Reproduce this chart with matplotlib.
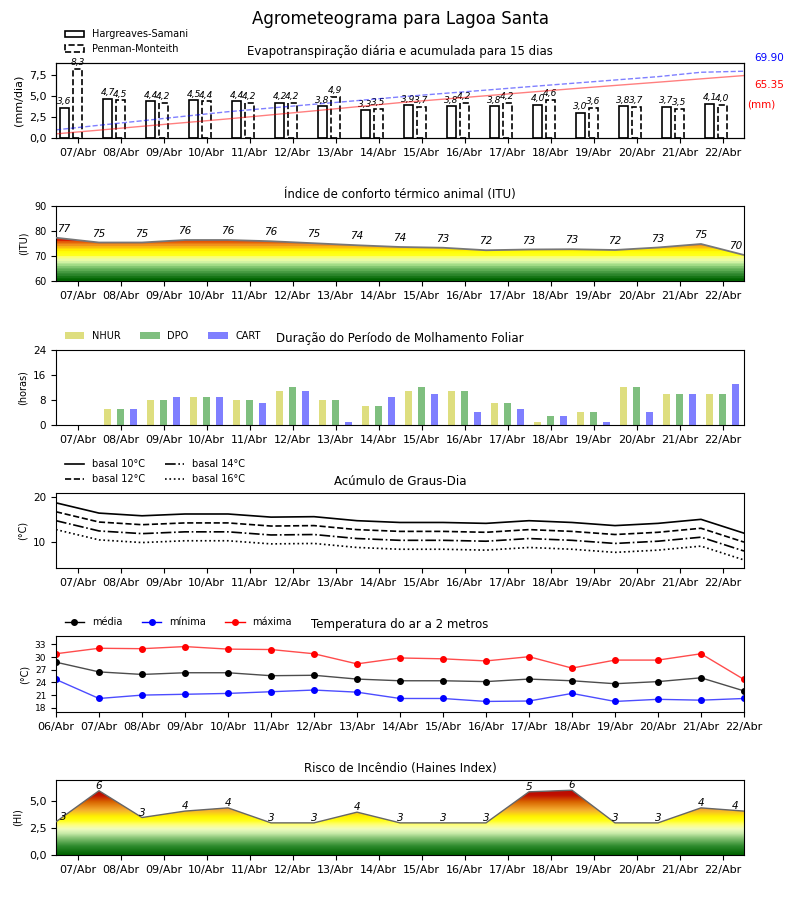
import numpy as np
import matplotlib
matplotlib.use('Agg')
import matplotlib.pyplot as plt
from matplotlib.colors import LinearSegmentedColormap
from matplotlib.ticker import FuncFormatter

dias = ['06/Abr', '07/Abr', '08/Abr', '09/Abr', '10/Abr', '11/Abr', '12/Abr', '13/Abr', '14/Abr',
        '15/Abr', '16/Abr', '17/Abr', '18/Abr', '19/Abr', '20/Abr', '21/Abr', '22/Abr']

# evapotranspiracao diaria (mm/dia), 07/Abr a 22/Abr
et_hs = [3.6, 4.7, 4.4, 4.5, 4.4, 4.2, 3.8, 3.3, 3.9, 3.8, 3.8, 4.0, 3.0, 3.8, 3.7, 4.1]
et_pm = [8.3, 4.5, 4.2, 4.4, 4.2, 4.2, 4.9, 3.5, 3.7, 4.2, 4.2, 4.6, 3.6, 3.7, 3.5, 4.0]
# acumulado (mm)
acum_hs = [4.3, 8.2, 12.2, 16.1, 20.0, 24.2, 28.4, 32.7, 37.0, 40.6, 44.2, 47.9, 51.5, 55.0, 58.4, 61.9, 65.35]
acum_pm = [8.5, 13.3, 18.0, 22.8, 27.5, 31.4, 35.3, 39.1, 43.0, 46.6, 50.1, 53.7, 57.2, 60.7, 64.2, 68.8, 69.90]

itu = [77.3, 75.4, 75.4, 76.4, 76.4, 75.9, 75.1, 74.3, 73.6, 73.3, 72.3, 72.6, 72.7, 72.4, 73.4, 74.8, 70.4]

nhur = [0, 5, 8, 9, 8, 11, 8, 6, 11, 11, 7, 1, 4, 12, 10, 10]
dpo = [0, 5, 8, 9, 8, 12, 8, 6, 12, 11, 7, 3, 4, 12, 10, 10]
cart = [0, 5, 9, 9, 7, 11, 1, 9, 10, 4, 5, 3, 1, 4, 10, 13]

t_media = [28.8, 26.5, 25.9, 26.3, 26.3, 25.6, 25.7, 24.8, 24.4, 24.4, 24.2, 24.8, 24.4, 23.7, 24.2, 25.1, 22.0]
t_min = [24.7, 20.2, 21.0, 21.2, 21.4, 21.8, 22.2, 21.7, 20.2, 20.2, 19.5, 19.6, 21.4, 19.5, 20.0, 19.8, 20.2]
t_max = [30.8, 32.1, 32.0, 32.5, 31.9, 31.8, 30.8, 28.4, 29.8, 29.6, 29.1, 30.1, 27.4, 29.3, 29.3, 30.8, 24.7]

basais = [10, 12, 14, 16]
estilos = ['-', '--', '-.', ':']

haines = [3.1, 6.0, 3.5, 4.1, 4.4, 3.0, 3.0, 4.0, 3.0, 3.0, 3.0, 5.9, 6.05, 3.0, 3.0, 4.4, 4.1]

cores_itu = [(60, '#006400'), (62, '#2a842a'), (64, '#5aaa52'), (66, '#9ad882'), (67.5, '#dcf7ac'),
             (69, '#f8ffa0'), (70, '#ffff20'), (72, '#ffff00'), (73, '#ffd000'), (74, '#f5a623'),
             (75, '#eb7d14'), (76, '#e04a00'), (77, '#d40000'), (90, '#c00000')]
cores_hi = [(0, '#006400'), (0.8, '#2e8b2e'), (1.5, '#7fbf6f'), (2.0, '#c8eaa8'), (2.4, '#eefcc0'),
            (2.8, '#ffff80'), (3.2, '#ffff1a'), (3.6, '#fff200'), (4.2, '#f5b030'), (5.0, '#d86400'),
            (5.6, '#c01000'), (7, '#b00000')]

x = np.arange(16)
xm = np.arange(17) - 0.5

virgula = FuncFormatter(lambda v, p: ('%.1f' % v).replace('.', ','))


def eixo_dias(ax):
    ax.set_xlim(-0.5, 15.5)
    ax.set_xticks(x)
    ax.set_xticklabels(dias[1:], fontsize=8)


def gradiente(ax, xs, ys, base, topo, cores, n):
    cmap = LinearSegmentedColormap.from_list(
        'g', [((v - base) / (topo - base), c) for v, c in cores], N=n)
    poly = ax.fill_between(xs, base, ys, facecolor='none', edgecolor='none')
    img = ax.imshow(np.linspace(0, 1, 256).reshape(-1, 1), cmap=cmap, aspect='auto',
                    origin='lower', extent=[xs[0], xs[-1], base, topo], zorder=1)
    img.set_clip_path(poly.get_paths()[0], transform=ax.transData)


def pos_rotulo(i):
    # rotulos das pontas ficam um pouco para dentro
    if i == 0:
        return xm[i] + 0.17
    if i == 16:
        return xm[i] - 0.2
    return xm[i]


fig = plt.figure(figsize=(8, 9), dpi=100)
fig.suptitle('Agrometeograma para Lagoa Santa', fontsize=12, y=0.979, va='center')

# ---- evapotranspiracao
ax1 = fig.add_axes([0.07, 0.8467, 0.86, 0.0833])
ax1.bar(x - 0.3, et_hs, 0.2, facecolor='white', edgecolor='k', lw=1.2, label='Hargreaves-Samani')
ax1.bar(x, et_pm, 0.2, facecolor='white', edgecolor='k', lw=1.2, ls='--', label='Penman-Monteith')
for i in range(16):
    ax1.text(x[i] - 0.3, et_hs[i] + 0.2, ('%.1f' % et_hs[i]).replace('.', ','), ha='center',
             va='bottom', fontsize=6.5, style='italic')
    ax1.text(x[i], et_pm[i] + 0.2, ('%.1f' % et_pm[i]).replace('.', ','), ha='center',
             va='bottom', fontsize=6.5, style='italic')
ax1.set_ylim(0, 9)
ax1.set_yticks([0, 2.5, 5, 7.5])
ax1.yaxis.set_major_formatter(virgula)
ax1.tick_params(labelsize=8)
ax1.set_ylabel('(mm/dia)', fontsize=8)
eixo_dias(ax1)
ax1.set_title('Evapotranspiração diária e acumulada para 15 dias', fontsize=8.5)
ax1.legend(loc='lower left', bbox_to_anchor=(0, 1), frameon=False, fontsize=7)
ax1b = ax1.twinx()
ax1b.plot(xm, acum_hs, 'r-', alpha=0.5, lw=1)
ax1b.plot(xm, acum_pm, 'b--', alpha=0.5, lw=1)
ax1b.set_ylim(0, 78.5)
ax1b.set_yticks([])
ax1.text(1.036, 1.072, '%.2f' % acum_pm[-1], color='b', fontsize=7.5, ha='center', va='center',
         transform=ax1.transAxes)
ax1.text(1.036, 0.712, '%.2f' % acum_hs[-1], color='r', fontsize=7.5, ha='center', va='center',
         transform=ax1.transAxes)
ax1.text(1.025, 0.44, '(mm)', color='r', fontsize=7.5, ha='center', va='center',
         transform=ax1.transAxes)

# ---- ITU
ax2 = fig.add_axes([0.07, 0.6878, 0.86, 0.0833])
gradiente(ax2, xm, itu, 60, 90, cores_itu, 30)
ax2.plot(xm, itu, color='#777777', lw=1.3, zorder=3)
for i in range(17):
    ax2.text(pos_rotulo(i), itu[i] + 1.5, '%.0f' % itu[i], ha='center', va='bottom', fontsize=7.5,
             style='italic')
ax2.set_ylim(60, 90)
ax2.set_yticks([60, 70, 80, 90])
ax2.tick_params(axis='y', labelsize=7)
ax2.set_ylabel('(ITU)', fontsize=7)
eixo_dias(ax2)
ax2.set_title('Índice de conforto térmico animal (ITU)', fontsize=8.5)

# ---- molhamento foliar
ax3 = fig.add_axes([0.07, 0.5278, 0.86, 0.0833])
ax3.bar(x - 0.3, nhur, 0.16, color='y', alpha=0.5, label='NHUR')
ax3.bar(x, dpo, 0.16, color='g', alpha=0.5, label='DPO')
ax3.bar(x + 0.3, cart, 0.16, color='b', alpha=0.5, label='CART')
ax3.set_ylim(0, 24)
ax3.set_yticks([0, 8, 16, 24])
ax3.tick_params(axis='y', labelsize=7.5)
ax3.set_ylabel('(horas)', fontsize=7)
eixo_dias(ax3)
ax3.set_title('Duração do Período de Molhamento Foliar', fontsize=8.5)
ax3.legend(loc='lower left', bbox_to_anchor=(0, 1), ncol=3, frameon=False, fontsize=7)

# ---- graus-dia
ax4 = fig.add_axes([0.07, 0.3689, 0.86, 0.0833])
for b, ls in zip(basais, estilos):
    gd = [t - b for t in t_media]
    ax4.plot(xm, gd, color='k', ls=ls, lw=1.2, label='basal %d°C' % b)
ax4.set_ylim(4.2, 21)
ax4.set_yticks([10, 20])
ax4.tick_params(axis='y', labelsize=7.5)
ax4.set_ylabel('(°C)', fontsize=7)
eixo_dias(ax4)
ax4.set_title('Acúmulo de Graus-Dia', fontsize=8.5)
ax4.legend(loc='lower left', bbox_to_anchor=(0, 1), ncol=2, frameon=False, fontsize=7)

# ---- temperatura
ax5 = fig.add_axes([0.07, 0.2089, 0.86, 0.0844])
xt5 = np.arange(17)
for serie, cor, nome in [(t_media, 'k', 'média'), (t_min, 'b', 'mínima'), (t_max, 'r', 'máxima')]:
    ax5.plot(xt5, serie, color=cor, lw=1, alpha=0.7)
    ax5.plot(xt5, serie, 'o', color=cor, ms=4)
    ax5.plot([], [], color=cor, marker='o', ms=4, lw=1, label=nome)
ax5.set_xlim(0, 16)
ax5.set_xticks(xt5)
ax5.set_xticklabels(dias, fontsize=8)
ax5.set_ylim(17, 35)
ax5.set_yticks([18, 21, 24, 27, 30, 33])
ax5.tick_params(axis='y', labelsize=6.5)
ax5.set_ylabel('(°C)', fontsize=7)
ax5.set_title('Temperatura do ar a 2 metros', fontsize=8.5)
ax5.legend(loc='lower left', bbox_to_anchor=(0, 1), ncol=3, frameon=False, fontsize=7)

# ---- Haines
ax6 = fig.add_axes([0.07, 0.05, 0.86, 0.0833])
gradiente(ax6, xm, haines, 0, 7, cores_hi, 64)
ax6.plot(xm, haines, color='#666666', lw=1, zorder=3)
for i in range(17):
    ax6.text(pos_rotulo(i), haines[i], '%d' % int(haines[i]), ha='center', va='bottom', fontsize=7.5,
             style='italic')
ax6.set_ylim(0, 7)
ax6.set_yticks([0, 2.5, 5])
ax6.yaxis.set_major_formatter(virgula)
ax6.tick_params(labelsize=8)
ax6.set_ylabel('(HI)', fontsize=7)
eixo_dias(ax6)
ax6.set_title('Risco de Incêndio (Haines Index)', fontsize=8.5)

fig.savefig('out.png', dpi=100)
